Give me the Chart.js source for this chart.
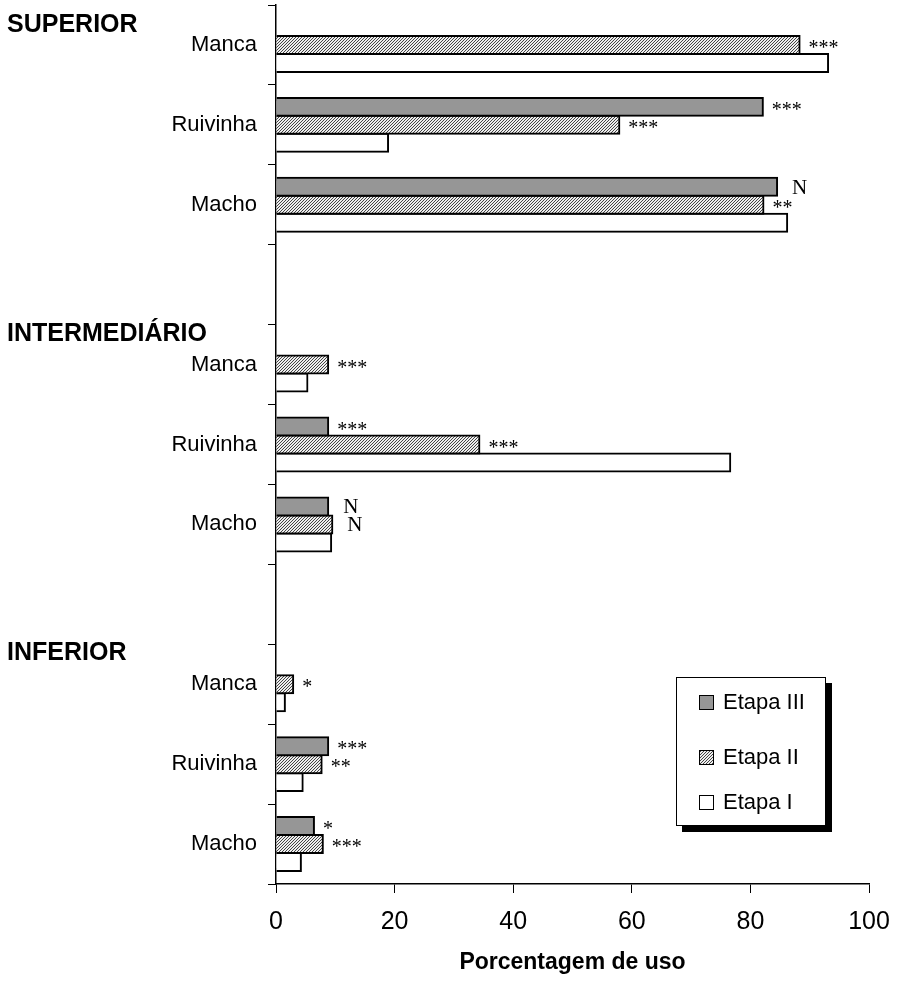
<!DOCTYPE html>
<html>
<head>
<meta charset="utf-8">
<script src="https://cdn.jsdelivr.net/npm/chart.js@4.4.0/dist/chart.umd.min.js"></script>
<style>
  body { margin: 0; background: #fff; }
  canvas { display: block; }
</style>
</head>
<body>
<canvas id="chart" width="897" height="982"></canvas>
<script>
// Categories (blank entries are the gaps between groups)
const categories = ['Manca', 'Ruivinha', 'Macho', '', 'Manca', 'Ruivinha', 'Macho', '', 'Manca', 'Ruivinha', 'Macho'];
const groupNames = ['SUPERIOR', 'INTERMEDIÁRIO', 'INFERIOR'];
const groupFirstIndex = [0, 4, 8];

// Percent of use, per stage
const etapaIII = [null, 82.1, 84.5, null, null, 8.8, 8.8, null, null, 8.8, 6.4];
const etapaII = [88.3, 57.9, 82.2, null, 8.8, 34.3, 9.5, null, 2.9, 7.7, 7.9];
const etapaI = [93.1, 18.9, 86.2, null, 5.3, 76.6, 9.3, null, 1.5, 4.5, 4.2];

// Significance marks next to bars
const sigIII = ['', '***', 'N', '', '', '***', 'N', '', '', '***', '*'];
const sigII = ['***', '***', '**', '', '***', '***', 'N', '', '*', '**', '***'];
const sigI = ['', '', '', '', '', '', '', '', '', '', ''];

const xTicks = [0, 20, 40, 60, 80, 100];

// Hatch pattern for Etapa II (fine diagonal lines)
function makeHatch() {
    const c = document.createElement('canvas');
    c.width = 3;
    c.height = 3;
    const g = c.getContext('2d');
    g.fillStyle = '#eeeeee';
    g.fillRect(0, 0, 3, 3);
    g.fillStyle = '#444444';
    g.fillRect(0, 2, 1, 1);
    g.fillRect(1, 1, 1, 1);
    g.fillRect(2, 0, 1, 1);
    return g.createPattern(c, 'repeat');
}
const hatch = makeHatch();
const darkGray = '#969696';

// Draw group headers, significance marks and legend box
const extrasPlugin = {
    id: 'extras',
    afterDraw(chart) {
        const ctx = chart.ctx;
        const yScale = chart.scales.y;
        const slot = (yScale.bottom - yScale.top) / categories.length;
        ctx.save();

        // group headers
        ctx.fillStyle = '#000';
        ctx.font = 'bold 25px "Liberation Sans", Arial, sans-serif';
        ctx.textAlign = 'left';
        ctx.textBaseline = 'middle';
        groupNames.forEach((name, i) => {
            const top = yScale.getPixelForValue(groupFirstIndex[i]) - slot / 2;
            const y = Math.max(top + 9, 25);
            ctx.fillText(name, 7, y);
        });

        // significance marks
        const sigs = [sigIII, sigII, sigI];
        sigs.forEach((marks, d) => {
            const meta = chart.getDatasetMeta(d);
            meta.data.forEach((bar, i) => {
                const m = marks[i];
                if (!m) return;
                ctx.textBaseline = 'alphabetic';
                if (m === 'N') {
                    ctx.font = '21px "Liberation Serif", "Times New Roman", serif';
                    ctx.fillText(m, bar.x + 15, bar.y + 7);
                } else {
                    ctx.font = '20px "Liberation Serif", "Times New Roman", serif';
                    ctx.fillText(m, bar.x + 9, bar.y + 9);
                }
            });
        });

        // legend box with shadow
        const bx = 676, by = 677, bw = 150, bh = 149;
        ctx.fillStyle = '#000';
        ctx.fillRect(bx + 6, by + 6, bw, bh);
        ctx.fillStyle = '#fff';
        ctx.fillRect(bx, by, bw, bh);
        ctx.strokeStyle = '#000';
        ctx.lineWidth = 1;
        ctx.strokeRect(bx + 0.5, by + 0.5, bw - 1, bh - 1);

        const items = chart.data.datasets;
        const rowY = [702, 757, 802];
        ctx.font = '22px "Liberation Sans", Arial, sans-serif';
        ctx.textBaseline = 'middle';
        items.forEach((ds, i) => {
            ctx.fillStyle = ds.backgroundColor;
            ctx.fillRect(699, rowY[i] - 7, 14, 14);
            ctx.strokeStyle = '#000';
            ctx.lineWidth = 1;
            ctx.strokeRect(699.5, rowY[i] - 6.5, 14, 14);
            ctx.fillStyle = '#000';
            ctx.fillText(ds.label, 723, rowY[i] + 1);
        });
        ctx.restore();
    }
};

new Chart(document.getElementById('chart'), {
    type: 'bar',
    data: {
        labels: categories,
        datasets: [
            { label: 'Etapa III', data: etapaIII, backgroundColor: darkGray },
            { label: 'Etapa II', data: etapaII, backgroundColor: hatch },
            { label: 'Etapa I', data: etapaI, backgroundColor: '#ffffff' }
        ]
    },
    options: {
        indexAxis: 'y',
        responsive: false,
        devicePixelRatio: 1,
        animation: false,
        layout: { padding: { top: 5, right: 28, bottom: 0, left: 0 } },
        datasets: {
            bar: {
                categoryPercentage: 0.675,
                barPercentage: 1,
                borderColor: '#000',
                borderWidth: 2,
                inflateAmount: 1
            }
        },
        plugins: {
            legend: { display: false },
            tooltip: { enabled: false }
        },
        scales: {
            x: {
                min: 0,
                max: 100,
                afterBuildTicks: (scale) => {
                    scale.ticks = xTicks.map(v => ({ value: v }));
                },
                afterFit: (scale) => {
                    scale.height = 98;
                    scale.paddingLeft = 0;
                    scale.paddingRight = 0;
                },
                grid: { drawOnChartArea: false, tickLength: 9, color: '#000' },
                border: { color: '#000', width: 1.5 },
                ticks: {
                    color: '#000',
                    padding: 14,
                    font: { family: '"Liberation Sans", Arial, sans-serif', size: 25 }
                },
                title: {
                    display: true,
                    text: 'Porcentagem de uso',
                    color: '#000',
                    padding: { top: 6, bottom: 6 },
                    font: { family: '"Liberation Sans", Arial, sans-serif', size: 23, weight: 'bold' }
                }
            },
            y: {
                afterFit: (scale) => {
                    scale.width = 276;
                    scale.paddingTop = 0;
                    scale.paddingBottom = 0;
                },
                grid: { drawOnChartArea: false, tickLength: 8, color: '#000', offset: true },
                border: { color: '#000', width: 1.5 },
                ticks: {
                    color: '#000',
                    padding: 11,
                    font: { family: '"Liberation Sans", Arial, sans-serif', size: 22 }
                }
            }
        }
    },
    plugins: [extrasPlugin]
});
</script>
</body>
</html>
